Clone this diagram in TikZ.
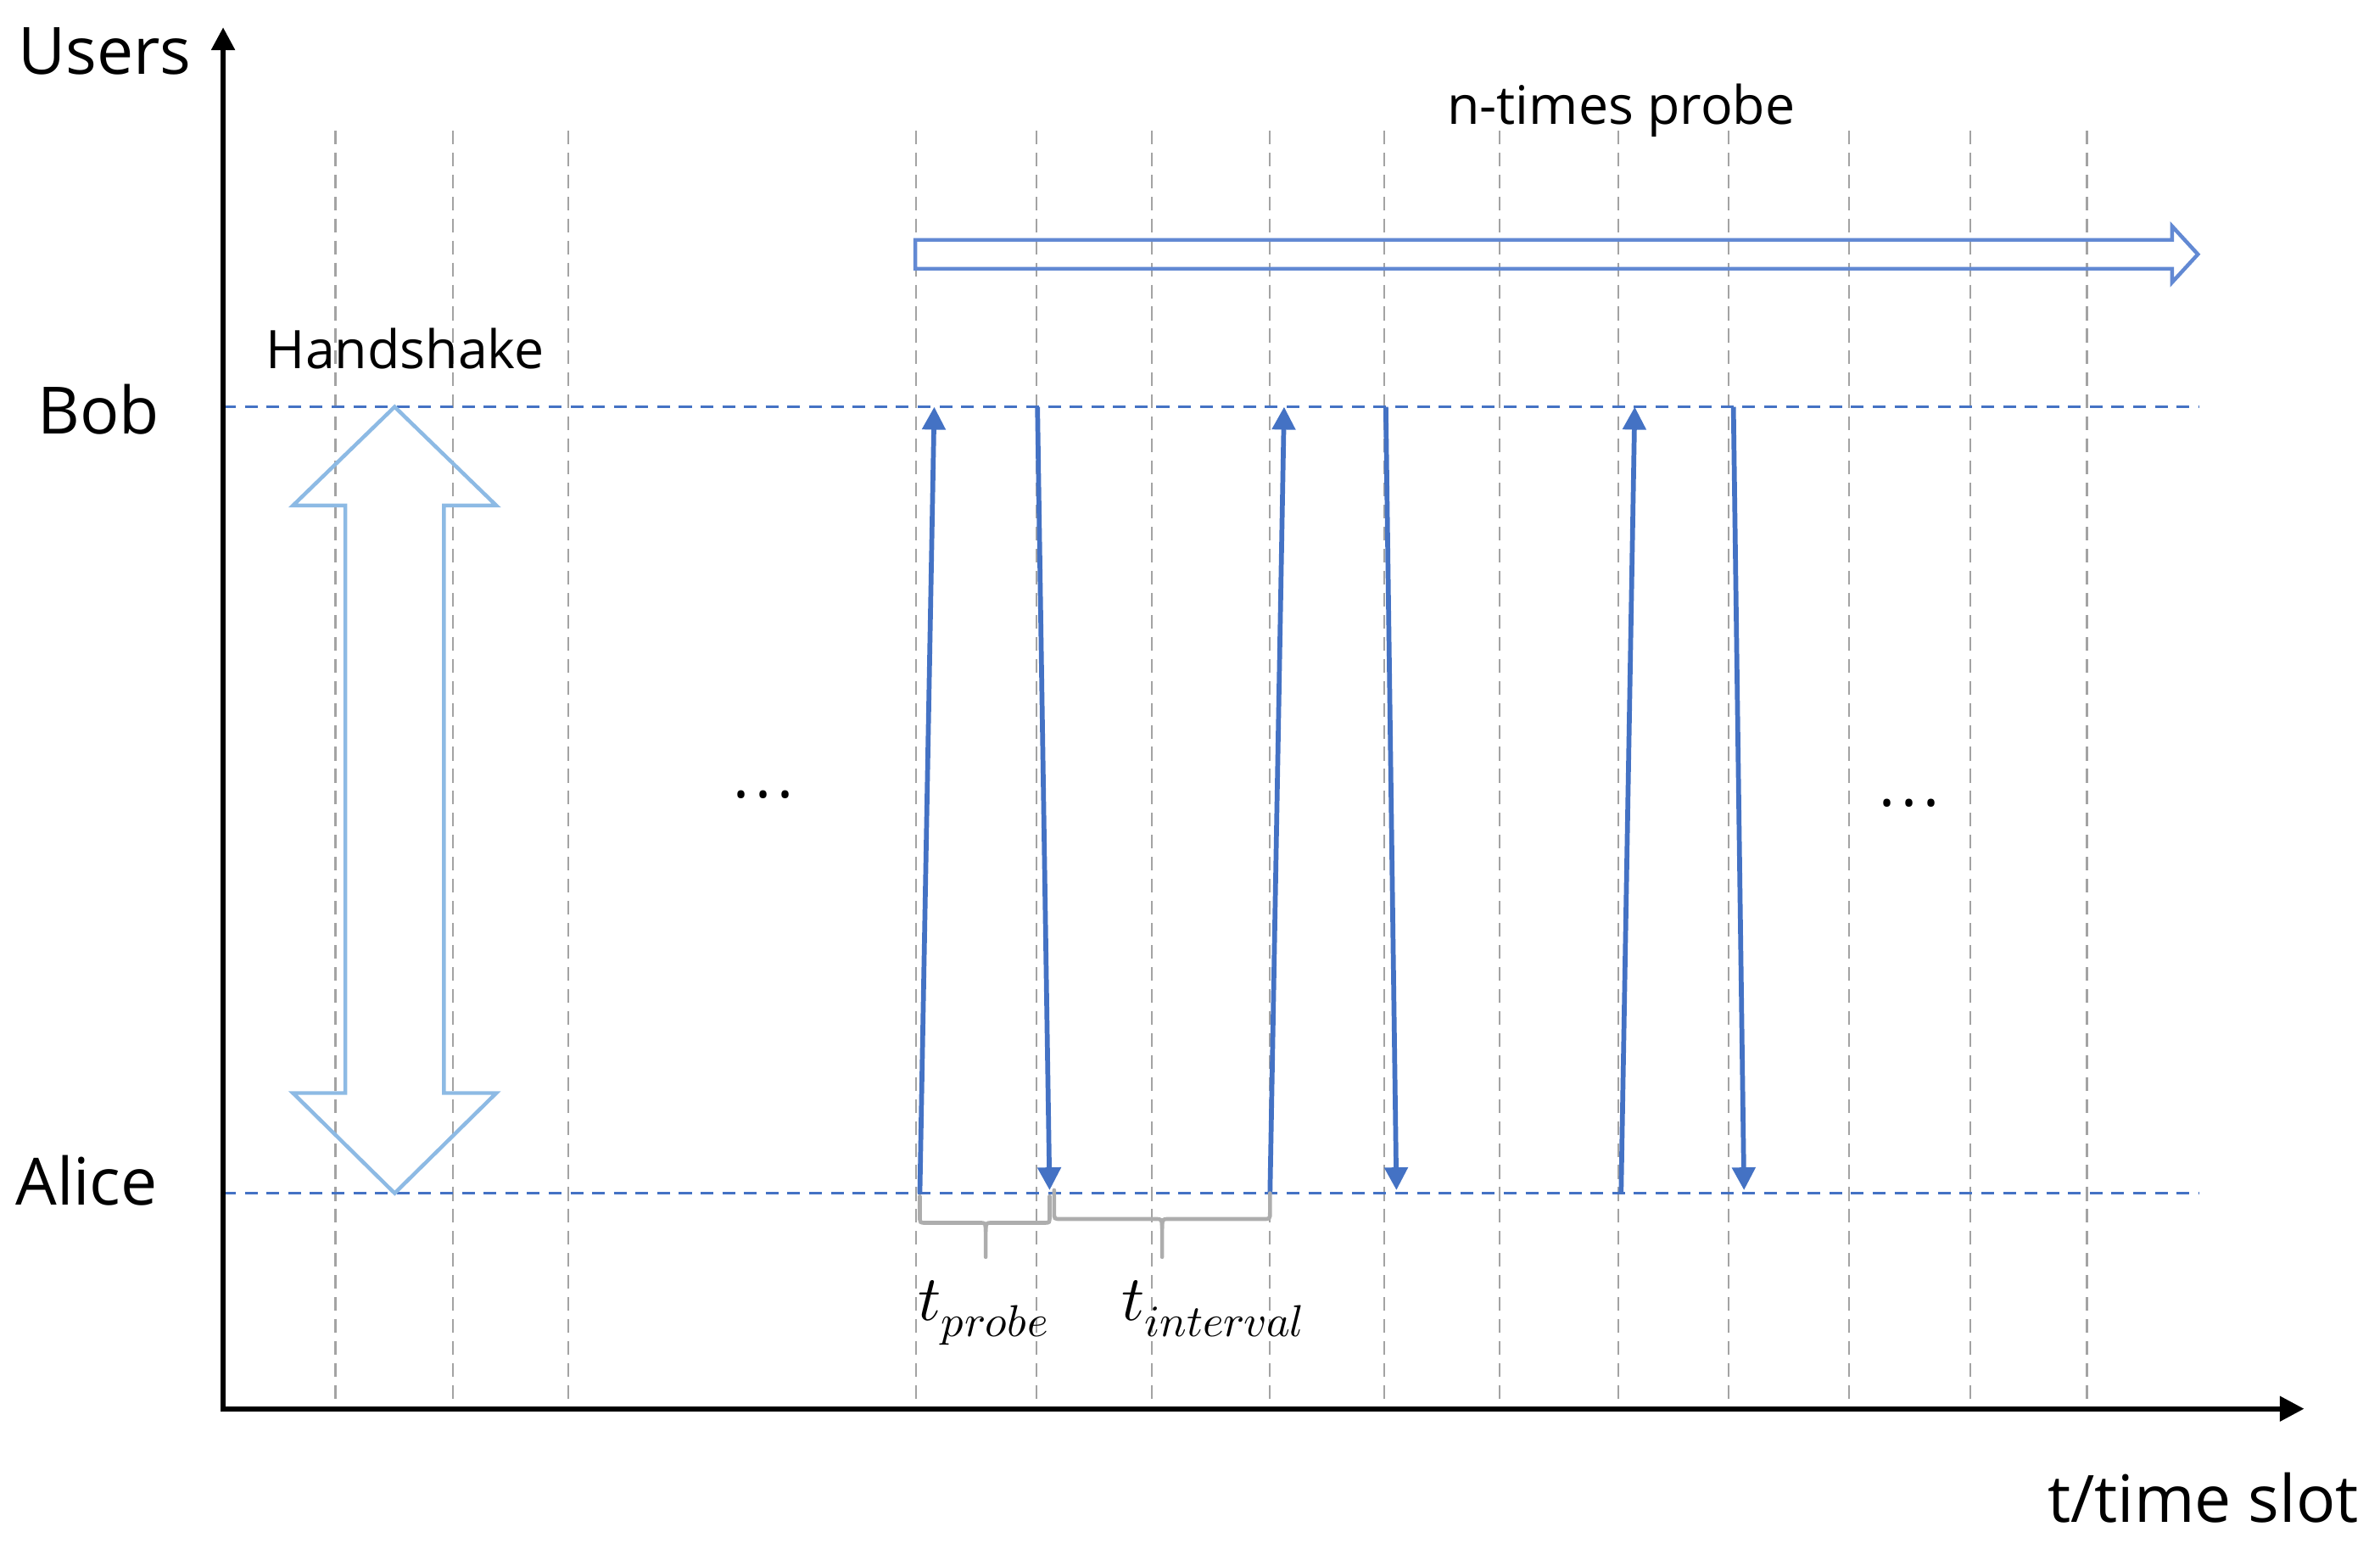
\documentclass[tikz,border=0pt]{standalone}
\usepackage{fontspec}
\usepackage{unicode-math}
\setmainfont{Open Sans}
\setmathfont{Latin Modern Math}
\usetikzlibrary{arrows.meta}
\definecolor{lineblue}{HTML}{4472C4}
\definecolor{gridgray}{HTML}{A3A3A3}
\definecolor{bracegray}{HTML}{ADADAD}
\definecolor{hsblue}{HTML}{8DBAE4}
\definecolor{ntblue}{HTML}{6289D3}
\begin{document}
\begin{tikzpicture}[x=1pt,y=-1pt,
  axisline/.style={line width=3.3pt, line join=miter, {Triangle[length=15pt,width=15pt]}-{Triangle[length=16pt,width=16pt]}},
  gridline/.style={gridgray, line width=1.3pt, dash pattern=on 9pt off 5.5pt},
  userline/.style={lineblue, line width=1.8pt, dash pattern=on 8.4pt off 5.9pt},
  probearrow/.style={lineblue, line width=3.2pt, -{Triangle[length=15pt,width=15pt]}},
  bracecurve/.style={bracegray, line width=2.6pt, line cap=round},
  hollowarrow/.style={line width=2.5pt, line join=miter},
  bigfont/.style={font=\fontsize{43}{50}\selectfont, inner sep=0pt},
  midfont/.style={font=\fontsize{35}{42}\selectfont, inner sep=0pt},
  mathlabel/.style={font=\fontsize{42}{48}\selectfont, inner sep=0pt},
  dotsfont/.style={font=\fontsize{40}{46}\selectfont, inner sep=0pt}
]
\useasboundingbox (0,0) rectangle (1568,1020);

% grid
\foreach \x in {221,298.4,374.4,603.5,683,759,836.5,912,988,1066,1139,1218,1298,1375}
  \draw[gridline] (\x,86) -- (\x,928);

% user lines
\coordinate (bobL) at (147,268);   \coordinate (bobR) at (1449,268);
\coordinate (aliceL) at (147,786); \coordinate (aliceR) at (1449,786);
\draw[userline] (bobL) -- (bobR);
\draw[userline] (aliceL) -- (aliceR);

% axes
\coordinate (O) at (147,928);
\coordinate (ytip) at (147,18);
\coordinate (xtip) at (1518,928);
\draw[axisline] (ytip) -- (O) -- (xtip);

% handshake double arrow
\draw[hsblue, hollowarrow] (260,268) -- (327,333) -- (292.5,333) -- (292.5,720) -- (327,720)
  -- (260,786) -- (193,720) -- (227.5,720) -- (227.5,333) -- (193,333) -- cycle;

% n-times probe arrow
\draw[ntblue, hollowarrow] (603,158) -- (1431,158) -- (1431,149) -- (1448,167.5)
  -- (1431,186) -- (1431,177) -- (603,177) -- cycle;

% probe arrows
\coordinate (a1) at (606,786);    \coordinate (b1) at (615.5,268);
\coordinate (b2) at (683.5,268);  \coordinate (a2) at (691.5,784);
\coordinate (a3) at (836.7,786);  \coordinate (b3) at (846,268);
\coordinate (b4) at (913,268);    \coordinate (a4) at (920,784);
\coordinate (a5) at (1068,786);   \coordinate (b5) at (1077,268);
\coordinate (b6) at (1142,268);   \coordinate (a6) at (1149,784);
\draw[probearrow] (a1) -- (b1);
\draw[probearrow] (b2) -- (a2);
\draw[probearrow] (a3) -- (b3);
\draw[probearrow] (b4) -- (a4);
\draw[probearrow] (a5) -- (b5);
\draw[probearrow] (b6) -- (a6);

% braces
\coordinate (p1) at (649.4,828);
\coordinate (p2) at (765.6,828);
\draw[bracecurve] (606,788) -- (606,801) .. controls (606,805.5) .. (610,805.5) -- (645,805.5)
  .. controls (649.4,805.5) .. (649.4,811) -- (p1);
\draw[bracecurve] (691.5,788) -- (691.5,801) .. controls (691.5,805.5) .. (688,805.5) -- (654,805.5)
  .. controls (649.4,805.5) .. (649.4,811);
\draw[bracecurve] (694.5,784) -- (694.5,798.5) .. controls (694.5,803) .. (699,803) -- (761,803)
  .. controls (765.6,803) .. (765.6,809) -- (p2);
\draw[bracecurve] (836.7,786) -- (836.7,798.5) .. controls (836.7,803) .. (832,803) -- (770,803)
  .. controls (765.6,803) .. (765.6,809);

% labels
\node[bigfont, anchor=base] (users) at (69,49) {Users};
\node[bigfont, anchor=base] (bob) at (65,286) {Bob};
\node[bigfont, anchor=base] (alice) at (57,794) {Alice};
\node[bigfont, anchor=base] (tslot) at (1451.5,1003) {t/time slot};
\node[midfont, anchor=base] (hs) at (267,243) {Handshake};
\node[midfont, anchor=base] (nt) at (1068,82) {n-times probe};
\node[mathlabel, anchor=base] (tp) at (648,870) {$t_{probe}$};
\node[mathlabel, anchor=base] (ti) at (799,870) {$t_{interval}$};
\node[dotsfont, anchor=base] (d1) at (503,525.8) {.\kern3.8pt.\kern3.8pt.};
\node[dotsfont, anchor=base] (d2) at (1257.7,531.4) {.\kern3.8pt.\kern3.8pt.};
\end{tikzpicture}
\end{document}
